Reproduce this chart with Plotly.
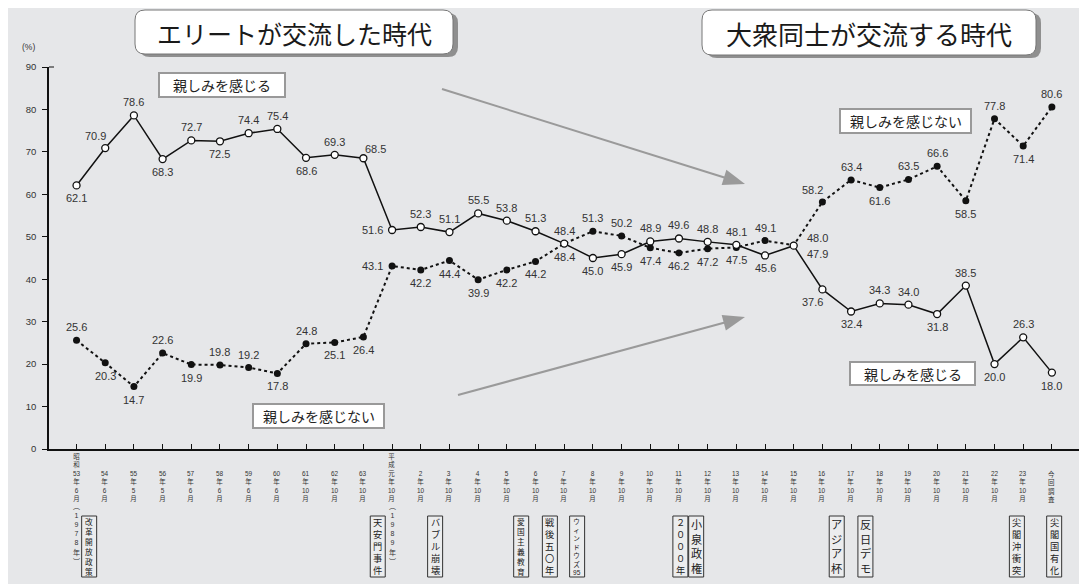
import re
import plotly.graph_objects as go

# ---------------- data ----------------
tick_labels = [
    "昭和53年6月（1978年）", "54年6月", "55年5月", "56年5月", "57年6月", "58年6月",
    "59年6月", "60年6月", "61年10月", "62年10月", "63年10月", "平成元年10月（1989年）",
    "2年10月", "3年10月", "4年10月", "5年10月", "6年10月", "7年10月", "8年10月",
    "9年10月", "10年10月", "11年10月", "12年10月", "13年10月", "14年10月", "15年10月",
    "16年10月", "17年10月", "18年10月", "19年10月", "20年10月", "21年10月", "22年10月",
    "23年10月", "今回調査",
]
feel_close = [62.1, 70.9, 78.6, 68.3, 72.7, 72.5, 74.4, 75.4, 68.6, 69.3, 68.5,
              51.6, 52.3, 51.1, 55.5, 53.8, 51.3, 48.4, 45.0, 45.9, 48.9, 49.6,
              48.8, 48.1, 45.6, 47.9, 37.6, 32.4, 34.3, 34.0, 31.8, 38.5, 20.0,
              26.3, 18.0]
not_close = [25.6, 20.3, 14.7, 22.6, 19.9, 19.8, 19.2, 17.8, 24.8, 25.1, 26.4,
             43.1, 42.2, 44.4, 39.9, 42.2, 44.2, 48.4, 51.3, 50.2, 47.4, 46.2,
             47.2, 47.5, 49.1, 48.0, 58.2, 63.4, 61.6, 63.5, 66.6, 58.5, 77.8,
             71.4, 80.6]
events = ["改革開放政策", "天安門事件", "バブル崩壊", "愛国主義教育", "戦後五〇年",
          "ウィンドウズ95", "２０００年", "小泉政権", "アジア杯", "反日デモ",
          "尖閣沖衝突", "尖閣国有化"]
event_pos = [0.44, 10.5, 12.5, 15.5, 16.5, 17.45, 21.05, 21.6, 26.5, 27.5, 32.78, 34.08]
title_left = "エリートが交流した時代"
title_right = "大衆同士が交流する時代"
name_close = "親しみを感じる"
name_not = "親しみを感じない"

# label placement codes (style)
pos_close = ['b', 'al', 'a', 'b', 'a', 'b', 'a', 'a', 'b', 'a', 'ar', 'l', 'a', 'a', 'a',
             'a', 'a', 'a', 'b', 'b', 'a', 'a', 'a', 'a', 'b', 'rd', 'bl', 'b', 'a', 'a',
             'b', 'a', 'b', 'a', 'b']
pos_not = ['a', 'b', 'b', 'a', 'b', 'a', 'a', 'b', 'a', 'b', 'b', 'l', 'b', 'b', 'b',
           'b', 'b', 'b', 'a', 'a', 'b', 'b', 'b', 'b', 'a', 'ru', 'al', 'a', 'b', 'a',
           'a', 'b', 'a', 'b', 'a']

# ---------------- geometry ----------------
# page has an 8px body margin; figure is sized so page coords match the target
OFS = 8
W, H = 1087 - OFS, 584 - OFS
L, R, T, B = 49 - OFS, 5, 67 - OFS, 135
PW, PH = W - L - R, H - T - B
BG = "#e6e7e9"
FONT = "Liberation Sans, Noto Sans CJK JP, sans-serif"
JFONT = "Noto Sans CJK JP, sans-serif"
TXT = "#333333"
LS = 1.3  # plotly line spacing (em)


def X(p):
    return (p - OFS - L) / PW


def Y(p):
    return (H - B - (p - OFS)) / PH


def rrect(x0, y0, x1, y1, r):
    return (f"M {X(x0 + r)},{Y(y0)} L {X(x1 - r)},{Y(y0)} Q {X(x1)},{Y(y0)} {X(x1)},{Y(y0 + r)} "
            f"L {X(x1)},{Y(y1 - r)} Q {X(x1)},{Y(y1)} {X(x1 - r)},{Y(y1)} "
            f"L {X(x0 + r)},{Y(y1)} Q {X(x0)},{Y(y1)} {X(x0)},{Y(y1 - r)} "
            f"L {X(x0)},{Y(y0 + r)} Q {X(x0)},{Y(y0)} {X(x0 + r)},{Y(y0)} Z")


n = len(tick_labels)
xs = list(range(n))

fig = go.Figure()
fig.add_trace(go.Scatter(
    x=xs, y=not_close, mode="lines+markers", name=name_not,
    line=dict(color="#111111", width=2, dash="dot"),
    marker=dict(symbol="circle", size=7, color="#111111"),
    cliponaxis=False, showlegend=False))
fig.add_trace(go.Scatter(
    x=xs, y=feel_close, mode="lines+markers", name=name_close,
    line=dict(color="#111111", width=1.5),
    marker=dict(symbol="circle", size=7, color="white", line=dict(color="#111111", width=1.3)),
    cliponaxis=False, showlegend=False))

ann = []
shapes = []

# data labels
OFF = {
    'a': dict(xanchor='center', xshift=0, yshift=13),
    'b': dict(xanchor='center', xshift=0, yshift=-13),
    'l': dict(xanchor='right', xshift=-7, yshift=0),
    'al': dict(xanchor='center', xshift=-10, yshift=12),
    'bl': dict(xanchor='center', xshift=-10, yshift=-13),
    'ar': dict(xanchor='center', xshift=12, yshift=9),
    'ru': dict(xanchor='left', xshift=11, yshift=7),
    'rd': dict(xanchor='left', xshift=11, yshift=-8),
}
for vals, poss in ((feel_close, pos_close), (not_close, pos_not)):
    for i, (v, p) in enumerate(zip(vals, poss)):
        o = OFF[p]
        ann.append(dict(x=i, y=v, xref='x', yref='y', text=f"{v:.1f}", showarrow=False,
                        xanchor=o['xanchor'], yanchor='middle', xshift=o['xshift'],
                        yshift=o['yshift'], font=dict(family=FONT, size=11, color=TXT)))


def toks(s):
    return re.findall(r'[0-9]+|.', s)


VMAP = {"（": "︵", "）": "︶"}


def vstack(x, tokens, y_first, pitch, color, xref='x'):
    """one multi-line annotation, rows `pitch` px apart, first row centred at y_first"""
    fs = pitch / LS
    nrow = len(tokens)
    yc = y_first + (nrow - 1) * pitch / 2
    ann.append(dict(x=x, y=Y(yc), xref=xref, yref='paper', text="<br>".join(tokens),
                    showarrow=False, xanchor='center', yanchor='middle', align='center',
                    font=dict(family=FONT, size=fs, color=color)))


# vertical tick labels
MAIN_PITCH, CONT_PITCH = 8.4, 9.1
for i, lab in enumerate(tick_labels):
    if "（" in lab:
        k = lab.index("（")
        main, cont = lab[:k], lab[k:]
    else:
        main, cont = lab, ""
    mt = toks(main)
    vstack(i, mt, 499 - (len(mt) - 1) * MAIN_PITCH, MAIN_PITCH, TXT)
    if cont:
        vstack(i, [VMAP.get(c, c) for c in cont], 507, CONT_PITCH, TXT)

# event boxes
BOX_T, BOX_B, BOX_HW = 516, 577, 7.5 / 28.7
for ev, ex in zip(events, event_pos):
    shapes.append(dict(type='rect', xref='x', yref='paper', x0=ex - BOX_HW, x1=ex + BOX_HW,
                       y0=Y(BOX_B), y1=Y(BOX_T), line=dict(color="#333333", width=1),
                       fillcolor="rgba(255,255,255,0.25)", layer='above'))
    et = toks(ev)
    step = min((BOX_B - BOX_T - 1) / len(et), 14.5)
    first = (BOX_T + BOX_B) / 2 - (len(et) - 1) * step / 2
    vstack(ex, et, first, step, "#222222")

# title boxes with shadow
for (x0, y0, x1, y1, txt, fs) in ((135, 10, 453, 54, title_left, 25),
                                  (702, 10, 1036, 55, title_right, 26)):
    shapes.append(dict(type='path', xref='paper', yref='paper', path=rrect(x0 + 5, y0 + 3, x1 + 5, y1 + 3, 10),
                       fillcolor="#8f8f8f", line=dict(width=0)))
    shapes.append(dict(type='path', xref='paper', yref='paper', path=rrect(x0, y0, x1, y1, 10),
                       fillcolor="white", line=dict(color="#777777", width=1)))
    ann.append(dict(x=X((x0 + x1) / 2), y=Y((y0 + y1) / 2 + 1), xref='paper', yref='paper', text=txt,
                    showarrow=False, xanchor='center', yanchor='middle',
                    font=dict(family=JFONT, size=fs, color="#1a1a1a")))

# series label boxes
for (x0, y0, x1, y1, txt) in ((159, 73, 285, 97, name_close),
                              (253, 404, 384, 428, name_not),
                              (840, 109, 971, 133, name_not),
                              (850, 362, 975, 385, name_close)):
    shapes.append(dict(type='rect', xref='paper', yref='paper', x0=X(x0), x1=X(x1), y0=Y(y1), y1=Y(y0),
                       fillcolor="white", line=dict(color="#999999", width=2)))
    ann.append(dict(x=X((x0 + x1) / 2), y=Y((y0 + y1) / 2), xref='paper', yref='paper', text=txt,
                    showarrow=False, xanchor='center', yanchor='middle',
                    font=dict(family=JFONT, size=14, color="#222222")))

# gray arrows
for (sx, sy, tx, ty) in ((442, 89, 745, 184), (458, 395, 745, 317)):
    dx, dy = tx - sx, ty - sy
    ln = (dx * dx + dy * dy) ** 0.5
    ux, uy = dx / ln, dy / ln
    hl, hw = 22, 8
    bx, by = tx - ux * hl, ty - uy * hl
    shapes.append(dict(type='line', xref='paper', yref='paper', x0=X(sx), y0=Y(sy), x1=X(bx + ux * 2),
                       y1=Y(by + uy * 2), line=dict(color="#9a9a9a", width=2)))
    p1 = (bx - uy * hw, by + ux * hw)
    p2 = (bx + uy * hw, by - ux * hw)
    shapes.append(dict(type='path', xref='paper', yref='paper',
                       path=f"M {X(tx)},{Y(ty)} L {X(p1[0])},{Y(p1[1])} L {X(p2[0])},{Y(p2[1])} Z",
                       fillcolor="#9a9a9a", line=dict(width=0)))

# axis end stubs (right end of x axis, top of y axis)
shapes.append(dict(type='line', xref='paper', yref='paper', x0=1, x1=1, y0=0, y1=Y(444),
                   line=dict(color="#111111", width=1)))
shapes.append(dict(type='line', xref='paper', yref='paper', x0=0, x1=X(54), y0=1, y1=1,
                   line=dict(color="#111111", width=1)))

# (%) label
ann.append(dict(x=X(28), y=Y(47), xref='paper', yref='paper', text="(%)", showarrow=False,
                xanchor='center', yanchor='middle', font=dict(family=FONT, size=8.5, color=TXT)))

fig.update_layout(
    width=W, height=H, margin=dict(l=L, r=R, t=T, b=B, pad=0),
    paper_bgcolor=BG, plot_bgcolor=BG,
    shapes=shapes, annotations=ann, showlegend=False,
    xaxis=dict(range=[-0.96, n + 0.05], tickvals=xs, showticklabels=False, ticks='inside',
               ticklen=5, tickcolor="#111111", showline=True, linecolor="#111111", linewidth=1.5,
               showgrid=False, zeroline=False, fixedrange=True),
    yaxis=dict(range=[0, 90], tickvals=list(range(0, 91, 10)), ticks='outside', ticklen=5,
               tickcolor="#111111", showline=True, linecolor="#111111", linewidth=1.5,
               showgrid=False, zeroline=False, ticklabelstandoff=4,
               tickfont=dict(family=FONT, size=9.5, color=TXT), fixedrange=True),
)

fig.write_html("out.html")
